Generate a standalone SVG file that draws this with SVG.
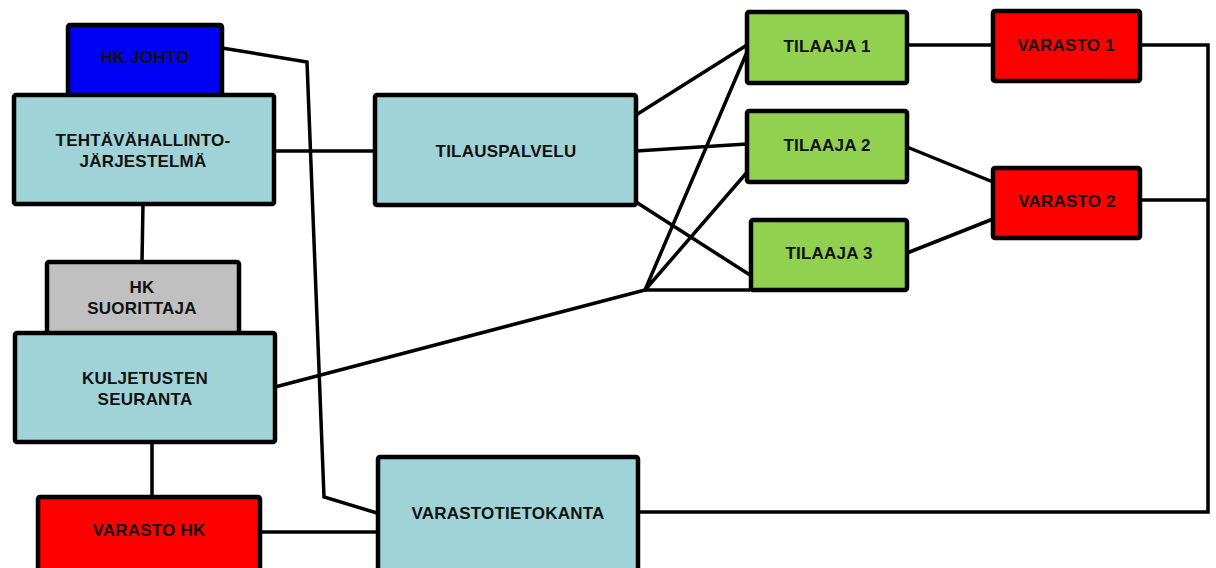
<svg xmlns="http://www.w3.org/2000/svg" width="1216" height="568" viewBox="0 0 1216 568">
<style>
.box{stroke:#000;stroke-width:4.5;stroke-linejoin:round}
.teal{fill:#a0d3d7}
.blue{fill:#0000f5}
.gray{fill:#c0c0c0}
.green{fill:#92d050}
.red{fill:#ff0000}
.lbl{font-family:"Liberation Sans",Arial,sans-serif;font-weight:bold;font-size:17px;letter-spacing:0.2px;fill:#111;text-anchor:middle}
#connectors path{fill:none;stroke:#000;stroke-width:3.5;stroke-linejoin:miter}
</style>
<rect width="1216" height="568" fill="#fff"/>
<g id="connectors">
<path d="M222,48 L307,62 L324,497 L377,513"/>
<path d="M143,204 L142,262"/>
<path d="M152,444 L152,497"/>
<path d="M259,532 L377,532"/>
<path d="M274,151 L375,151"/>
<path d="M636,115 L747,45"/>
<path d="M636,151 L747,144"/>
<path d="M636,202 L750,275"/>
<path d="M275,387 L645,290 L747,52"/>
<path d="M645,290 L749,170"/>
<path d="M645,290 L750,290"/>
<path d="M907,45 L993,45"/>
<path d="M907,147 L993,182"/>
<path d="M907,253 L993,219"/>
<path d="M1140,45 L1208,45 L1208,512 L638,512"/>
<path d="M1140,200 L1208,200"/>
</g>
<g id="hk-johto"><rect class="box blue" x="68" y="25" width="154" height="75" rx="2"/><text class="lbl" x="145" y="63">HK JOHTO</text></g>
<g id="tehtava"><rect class="box teal" x="14" y="95" width="260" height="109" rx="2"/><text class="lbl" x="143" y="146">TEHTÄVÄHALLINTO-</text><text class="lbl" x="143" y="167">JÄRJESTELMÄ</text></g>
<g id="hk-suorittaja"><rect class="box gray" x="47" y="262" width="192" height="75" rx="2"/><text class="lbl" x="142" y="293">HK</text><text class="lbl" x="142" y="314">SUORITTAJA</text></g>
<g id="kuljetusten"><rect class="box teal" x="15" y="333" width="260" height="109" rx="2"/><text class="lbl" x="145" y="384">KULJETUSTEN</text><text class="lbl" x="145" y="405">SEURANTA</text></g>
<g id="varasto-hk"><rect class="box red" x="38" y="497" width="222" height="80" rx="2"/><text class="lbl" x="149" y="536">VARASTO HK</text></g>
<g id="tilauspalvelu"><rect class="box teal" x="375" y="95" width="261" height="110" rx="2"/><text class="lbl" x="506" y="157">TILAUSPALVELU</text></g>
<g id="varastotietokanta"><rect class="box teal" x="378" y="457" width="260" height="120" rx="2"/><text class="lbl" x="508" y="519">VARASTOTIETOKANTA</text></g>
<g id="tilaaja1"><rect class="box green" x="747" y="12" width="160" height="71" rx="2"/><text class="lbl" x="827" y="52">TILAAJA 1</text></g>
<g id="tilaaja2"><rect class="box green" x="747" y="111" width="160" height="71" rx="2"/><text class="lbl" x="827" y="151">TILAAJA 2</text></g>
<g id="tilaaja3"><rect class="box green" x="751" y="220" width="156" height="70" rx="2"/><text class="lbl" x="829" y="259">TILAAJA 3</text></g>
<g id="varasto1"><rect class="box red" x="993" y="11" width="147" height="70" rx="2"/><text class="lbl" x="1066" y="51">VARASTO 1</text></g>
<g id="varasto2"><rect class="box red" x="993" y="168" width="147" height="70" rx="2"/><text class="lbl" x="1067" y="207">VARASTO 2</text></g>
</svg>
